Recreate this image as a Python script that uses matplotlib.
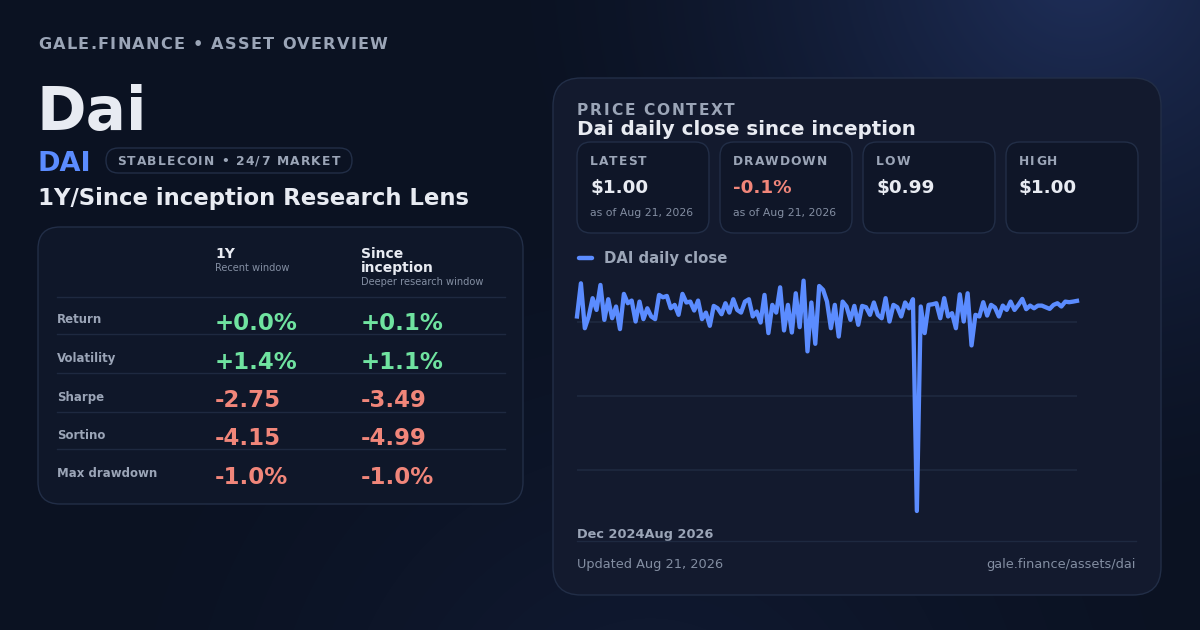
import matplotlib
matplotlib.use("Agg")
import matplotlib.pyplot as plt
import numpy as np
from matplotlib.patches import FancyBboxPatch
from matplotlib.font_manager import findfont, FontProperties
from matplotlib.ft2font import FT2Font

# ---------------- data ----------------
brand = "GALE.FINANCE • ASSET OVERVIEW"
asset_name = "Dai"
ticker = "DAI"
pill = "STABLECOIN • 24/7 MARKET"
subtitle = "1Y/Since inception Research Lens"

col_titles = ["1Y", "Since\ninception"]
col_notes = ["Recent window", "Deeper research window"]
metrics = ["Return", "Volatility", "Sharpe", "Sortino", "Max drawdown"]
vals_1y = ["+0.0%", "+1.4%", "-2.75", "-4.15", "-1.0%"]
vals_si = ["+0.1%", "+1.1%", "-3.49", "-4.99", "-1.0%"]

card_labels = ["LATEST", "DRAWDOWN", "LOW", "HIGH"]
card_values = ["$1.00", "-0.1%", "$0.99", "$1.00"]
card_notes = ["as of Aug 21, 2026", "as of Aug 21, 2026", "", ""]

series_name = "DAI daily close"
close = [1.00034, 1.00257, 0.99955, 1.00034, 1.00157, 1.00078, 1.00246, 1.00011,
         1.00150, 1.00022, 1.00101, 0.99949, 1.00186, 1.00123, 1.00141, 1.00000,
         1.00134, 1.00016, 1.00089, 1.00034, 1.00016, 1.00179, 1.00163, 1.00172,
         1.00089, 1.00112, 1.00045, 1.00186, 1.00128, 1.00134, 1.00074, 1.00141,
         1.00016, 1.00060, 0.99971, 1.00105, 1.00089, 1.00049, 1.00123, 1.00060,
         1.00150, 1.00078, 1.00060, 1.00134, 1.00150, 1.00034, 1.00067, 0.99993,
         1.00179, 0.99922, 1.00112, 1.00060, 1.00230, 0.99940, 1.00112, 0.99926,
         1.00190, 0.99962, 1.00275, 0.99799, 1.00128, 0.99850, 1.00239, 1.00213,
         1.00134, 0.99955, 1.00112, 0.99899, 1.00134, 1.00101, 1.00011, 1.00105,
         0.99978, 1.00105, 1.00096, 1.00045, 1.00128, 1.00045, 1.00022, 1.00157,
         1.00000, 1.00112, 1.00096, 1.00034, 1.00128, 1.00089, 1.00150, 0.98725,
         1.00101, 0.99922, 1.00112, 1.00116, 1.00123, 1.00022, 1.00157, 1.00034,
         1.00056, 0.99955, 1.00183, 1.00000, 1.00190, 0.99839, 1.00045, 1.00034,
         1.00130, 1.00040, 1.00112, 1.00094, 1.00034, 1.00107, 1.00078, 1.00134,
         1.00078, 1.00112, 1.00152, 1.00083, 1.00107, 1.00089, 1.00107, 1.00107,
         1.00096, 1.00085, 1.00112, 1.00123, 1.00101, 1.00134, 1.00130, 1.00134,
         1.00139]
grid_levels = [1.000, 0.995, 0.990]
date_labels = ["Dec 2024", "Aug 2026"]
updated = "Updated Aug 21, 2026"
url = "gale.finance/assets/dai"

# ---------------- colours ----------------
WHITE = "#e8ebf2"
MUTED = "#9ba5b7"
DIM = "#838ea2"
BLUE = "#5b8cff"
GREEN = "#6fe3a0"
RED = "#f1867a"
EDGE = "#222e47"
SEP = "#1e2940"

fig = plt.figure(figsize=(12, 6.3), dpi=100)
ax = fig.add_axes([0, 0, 1, 1])
ax.set_xlim(0, 1200)
ax.set_ylim(630, 0)
ax.axis("off")

# background with glow in the top right
yy, xx = np.mgrid[0:630, 0:1200]
t1 = np.clip(1 - np.hypot(xx - 1080, yy + 40) / 600, 0, 1) ** 1.6
t2 = np.clip(1 - np.hypot(xx - 650, yy - 760) / 600, 0, 1) ** 1.5
base = np.array([11, 18, 34]) / 255
glow = np.array([31, 47, 90]) / 255
glow2 = np.array([17, 27, 52]) / 255
bg = base + (glow - base) * t1[..., None] + (glow2 - base) * t2[..., None]
ax.imshow(np.clip(bg, 0, 1), extent=(0, 1200, 630, 0), aspect="auto", zorder=0)


def advance(s, size, weight):
    f = FT2Font(findfont(FontProperties(family="DejaVu Sans", weight=weight)), hinting_factor=1)
    f.set_size(size, 100)
    return [f.load_char(ord(c)).linearHoriAdvance / 65536 for c in s]


def spaced(x, y, s, size, track, color, weight="bold"):
    for c, a in zip(s, advance(s, size, weight)):
        ax.text(x, y, c, fontsize=size, fontweight=weight, color=color, va="baseline", ha="left", zorder=5)
        x += a + track


def box(x0, y0, x1, y1, r, fc, ec):
    p = FancyBboxPatch((x0 + r, y0 + r), x1 - x0 - 2 * r, y1 - y0 - 2 * r,
                       boxstyle="round,pad=%f" % r, fc=fc, ec=ec, lw=1, zorder=2)
    ax.add_patch(p)


# ---------------- left side ----------------
spaced(38, 49, brand, 11.6, 1.35, MUTED)
ax.text(36, 130, asset_name, fontsize=43, fontweight="bold", color=WHITE, va="baseline")
ax.text(37, 171, ticker, fontsize=19.5, fontweight="bold", color=BLUE, va="baseline")
box(106, 148, 352, 173, 12.5, "none", EDGE)
spaced(117, 165, pill, 8.8, 1.4, MUTED)
ax.text(38, 205, subtitle, fontsize=16.4, fontweight="bold", color=WHITE, va="baseline")

box(38, 227, 523, 504, 22, "#0f1729", EDGE)
col_x = [215, 361]
for cx, title, note in zip(col_x, col_titles, col_notes):
    ax.text(cx, 258, title.split("\n")[0], fontsize=10, fontweight="bold", color=WHITE, va="baseline")
    ny = 268
    if "\n" in title:
        ax.text(cx, 272, title.split("\n")[1], fontsize=10, fontweight="bold", color=WHITE, va="baseline")
        ny = 282
    ax.text(cx, ny, note, fontsize=7.1, color=DIM, va="center")

sep_y = [297, 334, 373, 412, 449]
for sy in sep_y:
    ax.plot([57, 505], [sy, sy], color=SEP, lw=1, zorder=3)

label_base = [323, 362, 401, 439, 477]
value_base = [330, 369, 407, 445, 484]
for m, v1, v2, lb, vb in zip(metrics, vals_1y, vals_si, label_base, value_base):
    ax.text(57, lb, m, fontsize=8.5, fontweight="bold", color=MUTED, va="baseline", zorder=4)
    for cx, v in zip(col_x, [v1, v2]):
        ax.text(cx, vb, v, fontsize=16.5, fontweight="bold", color=GREEN if v.startswith("+") else RED,
                va="baseline", zorder=4)

# ---------------- right panel ----------------
box(553, 78, 1161, 595, 28, "#131a2e", EDGE)
spaced(577, 115, "PRICE CONTEXT", 11.2, 1.35, MUTED)
ax.text(577, 135, "Dai daily close since inception", fontsize=14.3, fontweight="bold", color=WHITE, va="baseline")

for i, (lab, val, note) in enumerate(zip(card_labels, card_values, card_notes)):
    x0 = 577 + 143 * i
    box(x0, 142, x0 + 132, 233, 14, "#0f1628", EDGE)
    spaced(x0 + 13, 165, lab, 8.8, 1.2, MUTED)
    ax.text(x0 + 13, 193, val, fontsize=13.2, fontweight="bold", color=RED if val.startswith("-") else WHITE,
            va="baseline", zorder=5)
    if note:
        ax.text(x0 + 13, 213, note, fontsize=7.8, color=DIM, va="center", zorder=5)

ax.plot([579, 592], [258, 258], color=BLUE, lw=3.2, solid_capstyle="round", zorder=5)
ax.text(604, 263, series_name, fontsize=10.7, fontweight="bold", color=MUTED, va="baseline")

ax.text(577, 538, "".join(date_labels), fontsize=9.3, fontweight="bold", color=MUTED, va="baseline")
ax.plot([577, 1136], [541, 541], color=SEP, lw=1, zorder=3)
ax.text(577, 568, updated, fontsize=9.3, color=DIM, va="baseline")
ax.text(1136, 568, url, fontsize=9.3, color=DIM, va="baseline", ha="right")

# line chart
cax = fig.add_axes([577 / 1200, 1 - 515 / 630, 500 / 1200, 240 / 630])
cax.patch.set_alpha(0)
cax.axis("off")
n = len(close)
cax.set_xlim(0, n - 1)
cax.set_ylim(0.98698, 1.00313)
for g in grid_levels:
    cax.axhline(g, color=SEP, lw=1.2, zorder=1)
cax.plot(range(n), close, color=BLUE, lw=3.1, solid_joinstyle="round", clip_on=False, zorder=3)

fig.savefig("out.png", dpi=100)
